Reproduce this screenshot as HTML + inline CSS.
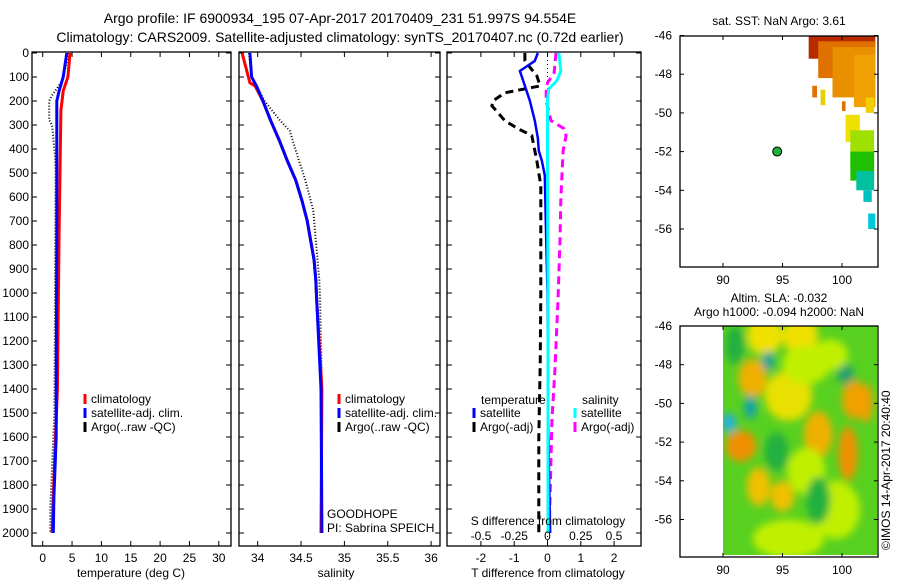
<!DOCTYPE html>
<html><head><meta charset="utf-8">
<style>
body{margin:0;background:#fff;}
svg{display:block;font-family:"Liberation Sans",Arial,sans-serif;}
text{fill:#000;}
</style></head>
<body>
<svg id="chart" width="900" height="580" viewBox="0 0 900 580" xmlns="http://www.w3.org/2000/svg">
<defs>
<filter id="blur" x="-20%" y="-20%" width="140%" height="140%"><feGaussianBlur stdDeviation="4"/></filter>
<clipPath id="clipSla"><rect x="723" y="326" width="154" height="229"/></clipPath>
</defs>
<text x="340" y="23" font-size="14" text-anchor="middle">Argo profile: IF 6900934_195 07-Apr-2017 20170409_231 51.997S 94.554E</text>
<text x="340" y="42" font-size="14" text-anchor="middle">Climatology: CARS2009. Satellite-adjusted climatology: synTS_20170407.nc (0.72d earlier)</text>
<g id="p1"></g>
<g id="p2"></g>
<g id="p3"></g>
<g id="m1"></g>
<g id="m2"></g>
<text transform="translate(890,550) rotate(-90)" font-size="12">©IMOS 14-Apr-2017 20:40:40</text>
</svg>
<script>
// ---- data ----
const tempClimDepth = [0,100,158,240,750,1400,1850,2000];
const tempClim = [4.65,4.3,3.5,3.1,2.8,2.5,1.8,1.6];
const tempSatDepth = [0,100,158,200,750,1400,1600,1850,2000];
const tempSat = [4.1,3.5,2.8,2.4,2.4,2.3,2.3,1.9,1.8];
const tempArgoDepth = [0,60,120,180,200,280,300,430,500,1000,1500,1900,2000];
const tempArgo = [4.3,3.9,3.2,1.5,1.1,1.1,1.6,2.1,2.2,2.1,2.0,1.3,1.3];

const salClimDepth = [0,124,137,200,282,365,448,531,614,697,780,863,946,1029,1400,2000];
const salClim = [33.82,33.91,33.97,34.06,34.15,34.25,34.34,34.44,34.51,34.57,34.61,34.65,34.67,34.68,34.74,34.73];
const salSatDepth = [0,100,140,200,282,365,448,531,614,697,780,863,946,1029,1400,2000];
const salSat = [33.91,33.93,33.99,34.06,34.15,34.25,34.34,34.44,34.51,34.57,34.61,34.65,34.67,34.68,34.73,34.74];
const salArgoDepth = [0,100,200,282,324,407,531,655,780,946,1029,1400,2000];
const salArgo = [33.9,33.93,34.08,34.26,34.37,34.44,34.55,34.64,34.67,34.71,34.72,34.74,34.74];

const dTDepth = [0,33,75,137,200,282,353,407,448,510,700,1000,1500,1800,2000];
const dTSat = [-0.29,-0.38,-0.83,-0.68,-0.53,-0.38,-0.29,-0.26,-0.17,-0.08,-0.05,0,0.02,0.05,0.08];
const dTArgoDepth = [0,33,95,137,166,200,220,282,315,344,448,552,700,1000,1300,1600,2000];
const dTArgo = [-0.68,-0.68,-0.32,-0.22,-1.28,-1.64,-1.67,-1.28,-0.89,-0.47,-0.32,-0.2,-0.2,-0.2,-0.22,-0.26,-0.26];
const dSDepth = [0,75,116,150,200,500,1000,2000];
const dSSat = [0.086,0.1,0.07,0.01,0,0,0.004,0.004];
const dSArgoDepth = [0,83,124,158,200,282,315,345,407,614,780,1030,1320,1525,1860,2000];
const dSArgo = [0.064,0.05,0,-0.01,-0.01,0.026,0.124,0.14,0.117,0.1,0.094,0.079,0.056,0.034,0.019,0.012];

const depthTicks = [0,100,200,300,400,500,600,700,800,900,1000,1100,1200,1300,1400,1500,1600,1700,1800,1900,2000];
const tempTicks = [0,5,10,15,20,25,30];
const salTicks = [34,34.5,35,35.5,36];
const salTickLabels = ["34","34.5","35","35.5","36"];
const dTTicks = [-2,-1,0,1,2];
const dSTicks = [-0.5,-0.25,0,0.25,0.5];
const latTicks = [-46,-48,-50,-52,-54,-56];
const lonTicks = [90,95,100];
const argoLon = 94.554, argoLat = -51.997;

// ---- helpers ----
const NS="http://www.w3.org/2000/svg";
function mk(parent,tag,attrs,txt){const e=document.createElementNS(NS,tag);for(const k in attrs)e.setAttribute(k,attrs[k]);if(txt!==undefined)e.textContent=txt;parent.appendChild(e);return e;}
const yD = d => 53 + d*0.24;
const xT = t => 42.7 + t*5.87;
const xS = s => 257.7 + (s-34)*86.7;
const xdT = t => 547.5 + t*33.3;
const xdS = s => 547.5 + s*133;
const lonX = l => 723 + (l-90)*11.9;
const latY1 = a => 35.5 + (-46-a)*19.35;
const latY2 = a => 326 + (-46-a)*19.35;

function frame(g,x0,x1,y0,y1,name){
  const r=mk(g,'rect',{x:x0,y:y0,width:x1-x0,height:y1-y0,fill:'none',stroke:'#000','stroke-width':1.3});
  
  
}
function series(g,xs,ds,xf,yf,color,w,dash,name){
  const pts=xs.map((v,i)=>xf(v).toFixed(1)+','+yf(ds[i]).toFixed(1)).join(' ');
  const a={points:pts,fill:'none',stroke:color,'stroke-width':w};
  if(dash)a['stroke-dasharray']=dash;
  const p=mk(g,'polyline',a);
  
  
}
function depthAxis(g,x0,x1,labels){
  depthTicks.forEach(d=>{const y=yD(d);
    mk(g,'line',{x1:x0,y1:y,x2:x0+5,y2:y,stroke:'#000'});
    mk(g,'line',{x1:x1,y1:y,x2:x1-5,y2:y,stroke:'#000'});
    if(labels){const t=mk(g,'text',{x:x0-3,y:y+4,'font-size':12,'text-anchor':'end'},String(d));
      
      }
  });
}
function xAxis(g,ticks,labels,xf,y0,y1,ly){
  ticks.forEach((v,i)=>{const x=xf(v);
    mk(g,'line',{x1:x,y1:y1,x2:x,y2:y1-5,stroke:'#000'});
    mk(g,'line',{x1:x,y1:y0,x2:x,y2:y0+5,stroke:'#000'});
    const t=mk(g,'text',{x:x,y:ly,'font-size':12,'text-anchor':'middle'},labels[i]);
    
    
  });
}
function legendItem(g,x,y,color,label,dash){
  const l=mk(g,'line',{x1:x,y1:y-9,x2:x,y2:y+1,stroke:color,'stroke-width':3});
  
  
  const t=mk(g,'text',{x:x+6,y:y,'font-size':12},label);
  
  
}

// ---- panel 1: temperature ----
const p1=document.getElementById('p1');
frame(p1,32,231,52,546,'temperature-axes');
depthAxis(p1,32,231,true);
xAxis(p1,tempTicks,tempTicks.map(String),xT,52,546,562);
series(p1,tempArgo,tempArgoDepth,xT,yD,'#000',2,'1 2','temp-argo-line');
series(p1,tempClim,tempClimDepth,xT,yD,'#f00',3,null,'temp-climatology-line');
series(p1,tempSat,tempSatDepth,xT,yD,'#00f',3,null,'temp-satellite-line');
{const t=mk(p1,'text',{x:131,y:577,'font-size':12,'text-anchor':'middle'},'temperature (deg C)');
}
legendItem(p1,85,403,'#f00','climatology');
legendItem(p1,85,417,'#00f','satellite-adj. clim.');
legendItem(p1,85,431,'#000','Argo(..raw -QC)');

// ---- panel 2: salinity ----
const p2=document.getElementById('p2');
frame(p2,239,440,52,546,'salinity-axes');
depthAxis(p2,239,440,false);
xAxis(p2,salTicks,salTickLabels,xS,52,546,562);
series(p2,salArgo,salArgoDepth,xS,yD,'#000',2,'1 2','sal-argo-line');
series(p2,salClim,salClimDepth,xS,yD,'#f00',3,null,'sal-climatology-line');
series(p2,salSat,salSatDepth,xS,yD,'#00f',3,null,'sal-satellite-line');
{const t=mk(p2,'text',{x:336,y:577,'font-size':12,'text-anchor':'middle'},'salinity');
}
legendItem(p2,339,403,'#f00','climatology');
legendItem(p2,339,417,'#00f','satellite-adj. clim.');
legendItem(p2,339,431,'#000','Argo(..raw -QC)');
{const t=mk(p2,'text',{x:327,y:518,'font-size':12},'GOODHOPE');

const u=mk(p2,'text',{x:327,y:532,'font-size':12},'PI: Sabrina SPEICH');
}

// ---- panel 3: differences ----
const p3=document.getElementById('p3');
frame(p3,447,641,52,546,'difference-axes');
depthAxis(p3,447,641,false);
xAxis(p3,dTTicks,dTTicks.map(String),xdT,52,546,562);
mk(p3,'line',{x1:xdT(0),y1:52,x2:xdT(0),y2:546,stroke:'#000','stroke-dasharray':'1 3'});
series(p3,dTArgo,dTArgoDepth,xdT,yD,'#000',3,'8 5','dT-argo-line');
series(p3,dSArgo,dSArgoDepth,xdS,yD,'#f0f',3,'8 5','dS-argo-line');
series(p3,dTSat,dTDepth,xdT,yD,'#00f',2.5,null,'dT-satellite-line');
series(p3,dSSat,dSDepth,xdS,yD,'#0ff',3,null,'dS-satellite-line');
dSTicks.forEach(v=>{const t=mk(p3,'text',{x:xdS(v),y:540,'font-size':12,'text-anchor':'middle'},String(v));
});
{const t=mk(p3,'text',{x:548,y:525,'font-size':12,'text-anchor':'middle'},'S difference from climatology');

const u=mk(p3,'text',{x:548,y:577,'font-size':12,'text-anchor':'middle'},'T difference from climatology');

const a=mk(p3,'text',{x:481,y:404,'font-size':12},'temperature');

const b=mk(p3,'text',{x:582,y:404,'font-size':12},'salinity');
}
legendItem(p3,474,417,'#00f','satellite');
legendItem(p3,474,431,'#000','Argo(-adj)');
legendItem(p3,575,417,'#0ff','satellite');
legendItem(p3,575,431,'#f0f','Argo(-adj)');

// ---- map 1: SST ----
const m1=document.getElementById('m1');
const sstPatches=[
 [97.2,-46,5.6,1.2,'#b82a00'],[98.0,-46.3,4.8,1.9,'#e07000'],[99.2,-46.6,3.6,2.6,'#e89000'],
 [101.0,-47.0,1.8,2.7,'#f0a000'],[97.5,-48.6,0.4,0.6,'#e07000'],[98.2,-48.8,0.4,0.8,'#e8d000'],
 [100.0,-49.4,0.3,0.5,'#e07000'],[102.0,-49.2,0.7,0.8,'#f0d000'],
 [100.3,-50.1,1.2,1.4,'#f0e000'],[100.7,-50.9,2.0,1.9,'#a0e000'],[100.7,-52.0,2.0,1.5,'#20c000'],
 [101.2,-53.0,1.5,1.0,'#00c0a0'],[101.8,-54.0,0.7,0.6,'#00c0c0'],[102.2,-55.2,0.6,0.8,'#00c8d8']
];
sstPatches.forEach(p=>{const r=mk(m1,'rect',{x:lonX(p[0]),y:latY1(p[1]),width:p[2]*11.9,height:p[3]*19.35,fill:p[4]});
});
frame(m1,680,878,36,267,'sst-map-axes');
latTicks.forEach(a=>{const y=latY1(a);mk(m1,'line',{x1:680,y1:y,x2:684,y2:y,stroke:'#000'});mk(m1,'line',{x1:878,y1:y,x2:874,y2:y,stroke:'#000'});
const t=mk(m1,'text',{x:672,y:y+4,'font-size':12,'text-anchor':'end'},String(a));});
lonTicks.forEach(l=>{const x=lonX(l);mk(m1,'line',{x1:x,y1:267,x2:x,y2:263,stroke:'#000'});mk(m1,'line',{x1:x,y1:36,x2:x,y2:40,stroke:'#000'});
const t=mk(m1,'text',{x:x,y:284,'font-size':12,'text-anchor':'middle'},String(l));});
{const c=mk(m1,'circle',{cx:lonX(argoLon),cy:latY1(argoLat),r:4.5,fill:'#20b040',stroke:'#000','stroke-width':1});

const t=mk(m1,'text',{x:779,y:25,'font-size':12,'text-anchor':'middle'},'sat. SST: NaN Argo: 3.61');
}

// ---- map 2: SLA ----
const m2=document.getElementById('m2');
const gSla=mk(m2,'g',{'clip-path':'url(#clipSla)'});
mk(gSla,'rect',{x:723,y:326,width:154,height:229,fill:'#58d020'});
const slaBlobs=[
 [93.5,-46.5,1.5,1,'#f0e000'],[96.5,-46.5,1.5,1,'#f0e000'],[92.5,-48.7,1.2,1,'#f0b000'],[91.5,-52.2,1.3,0.8,'#f09000'],
 [95.5,-49.6,2,1.3,'#e8e000'],[98,-51.6,1.2,1.2,'#f0b000'],[100.5,-52.6,0.8,1.4,'#f09000'],[101,-49.8,1,1,'#f0a000'],
 [93,-54.3,1,1,'#f0c000'],[95,-54.8,1,0.8,'#f0c000'],[97,-53.5,1.6,1.2,'#c0f000'],[99.5,-55.5,2,1.5,'#c0f000'],
 [95.5,-57,3,1,'#c0f000'],[97,-48,2,1,'#c0f000'],[102,-50,0.6,1,'#f0a000'],[99,-47.5,1.5,0.8,'#c0f000'],
 [94.5,-52.5,1,1,'#20b040'],[91,-47,0.8,1,'#20b040'],[98,-55,1,1.2,'#20b040'],
 [90.5,-51,0.6,0.5,'#20b0e0'],[92.3,-50.2,0.5,0.6,'#10a0b0'],[93.8,-47.8,0.5,0.5,'#20a0a0'],[100.3,-48.5,0.7,0.5,'#20a070']
];
const gb=mk(gSla,'g',{filter:'url(#blur)'});
slaBlobs.forEach(b=>{const e=mk(gb,'ellipse',{cx:lonX(b[0]),cy:latY2(b[1]),rx:b[2]*11.9,ry:b[3]*19.35,fill:b[4]});
});
frame(m2,680,878,326,557,'sla-map-axes');
latTicks.forEach(a=>{const y=latY2(a);mk(m2,'line',{x1:680,y1:y,x2:684,y2:y,stroke:'#000'});mk(m2,'line',{x1:878,y1:y,x2:874,y2:y,stroke:'#000'});
const t=mk(m2,'text',{x:672,y:y+4,'font-size':12,'text-anchor':'end'},String(a));});
lonTicks.forEach(l=>{const x=lonX(l);mk(m2,'line',{x1:x,y1:557,x2:x,y2:553,stroke:'#000'});mk(m2,'line',{x1:x,y1:326,x2:x,y2:330,stroke:'#000'});
const t=mk(m2,'text',{x:x,y:574,'font-size':12,'text-anchor':'middle'},String(l));});
{const t=mk(m2,'text',{x:779,y:302,'font-size':12,'text-anchor':'middle'},'Altim. SLA: -0.032');

const u=mk(m2,'text',{x:779,y:316,'font-size':12,'text-anchor':'middle'},'Argo h1000: -0.094 h2000: NaN');
}
</script>
</body></html>
